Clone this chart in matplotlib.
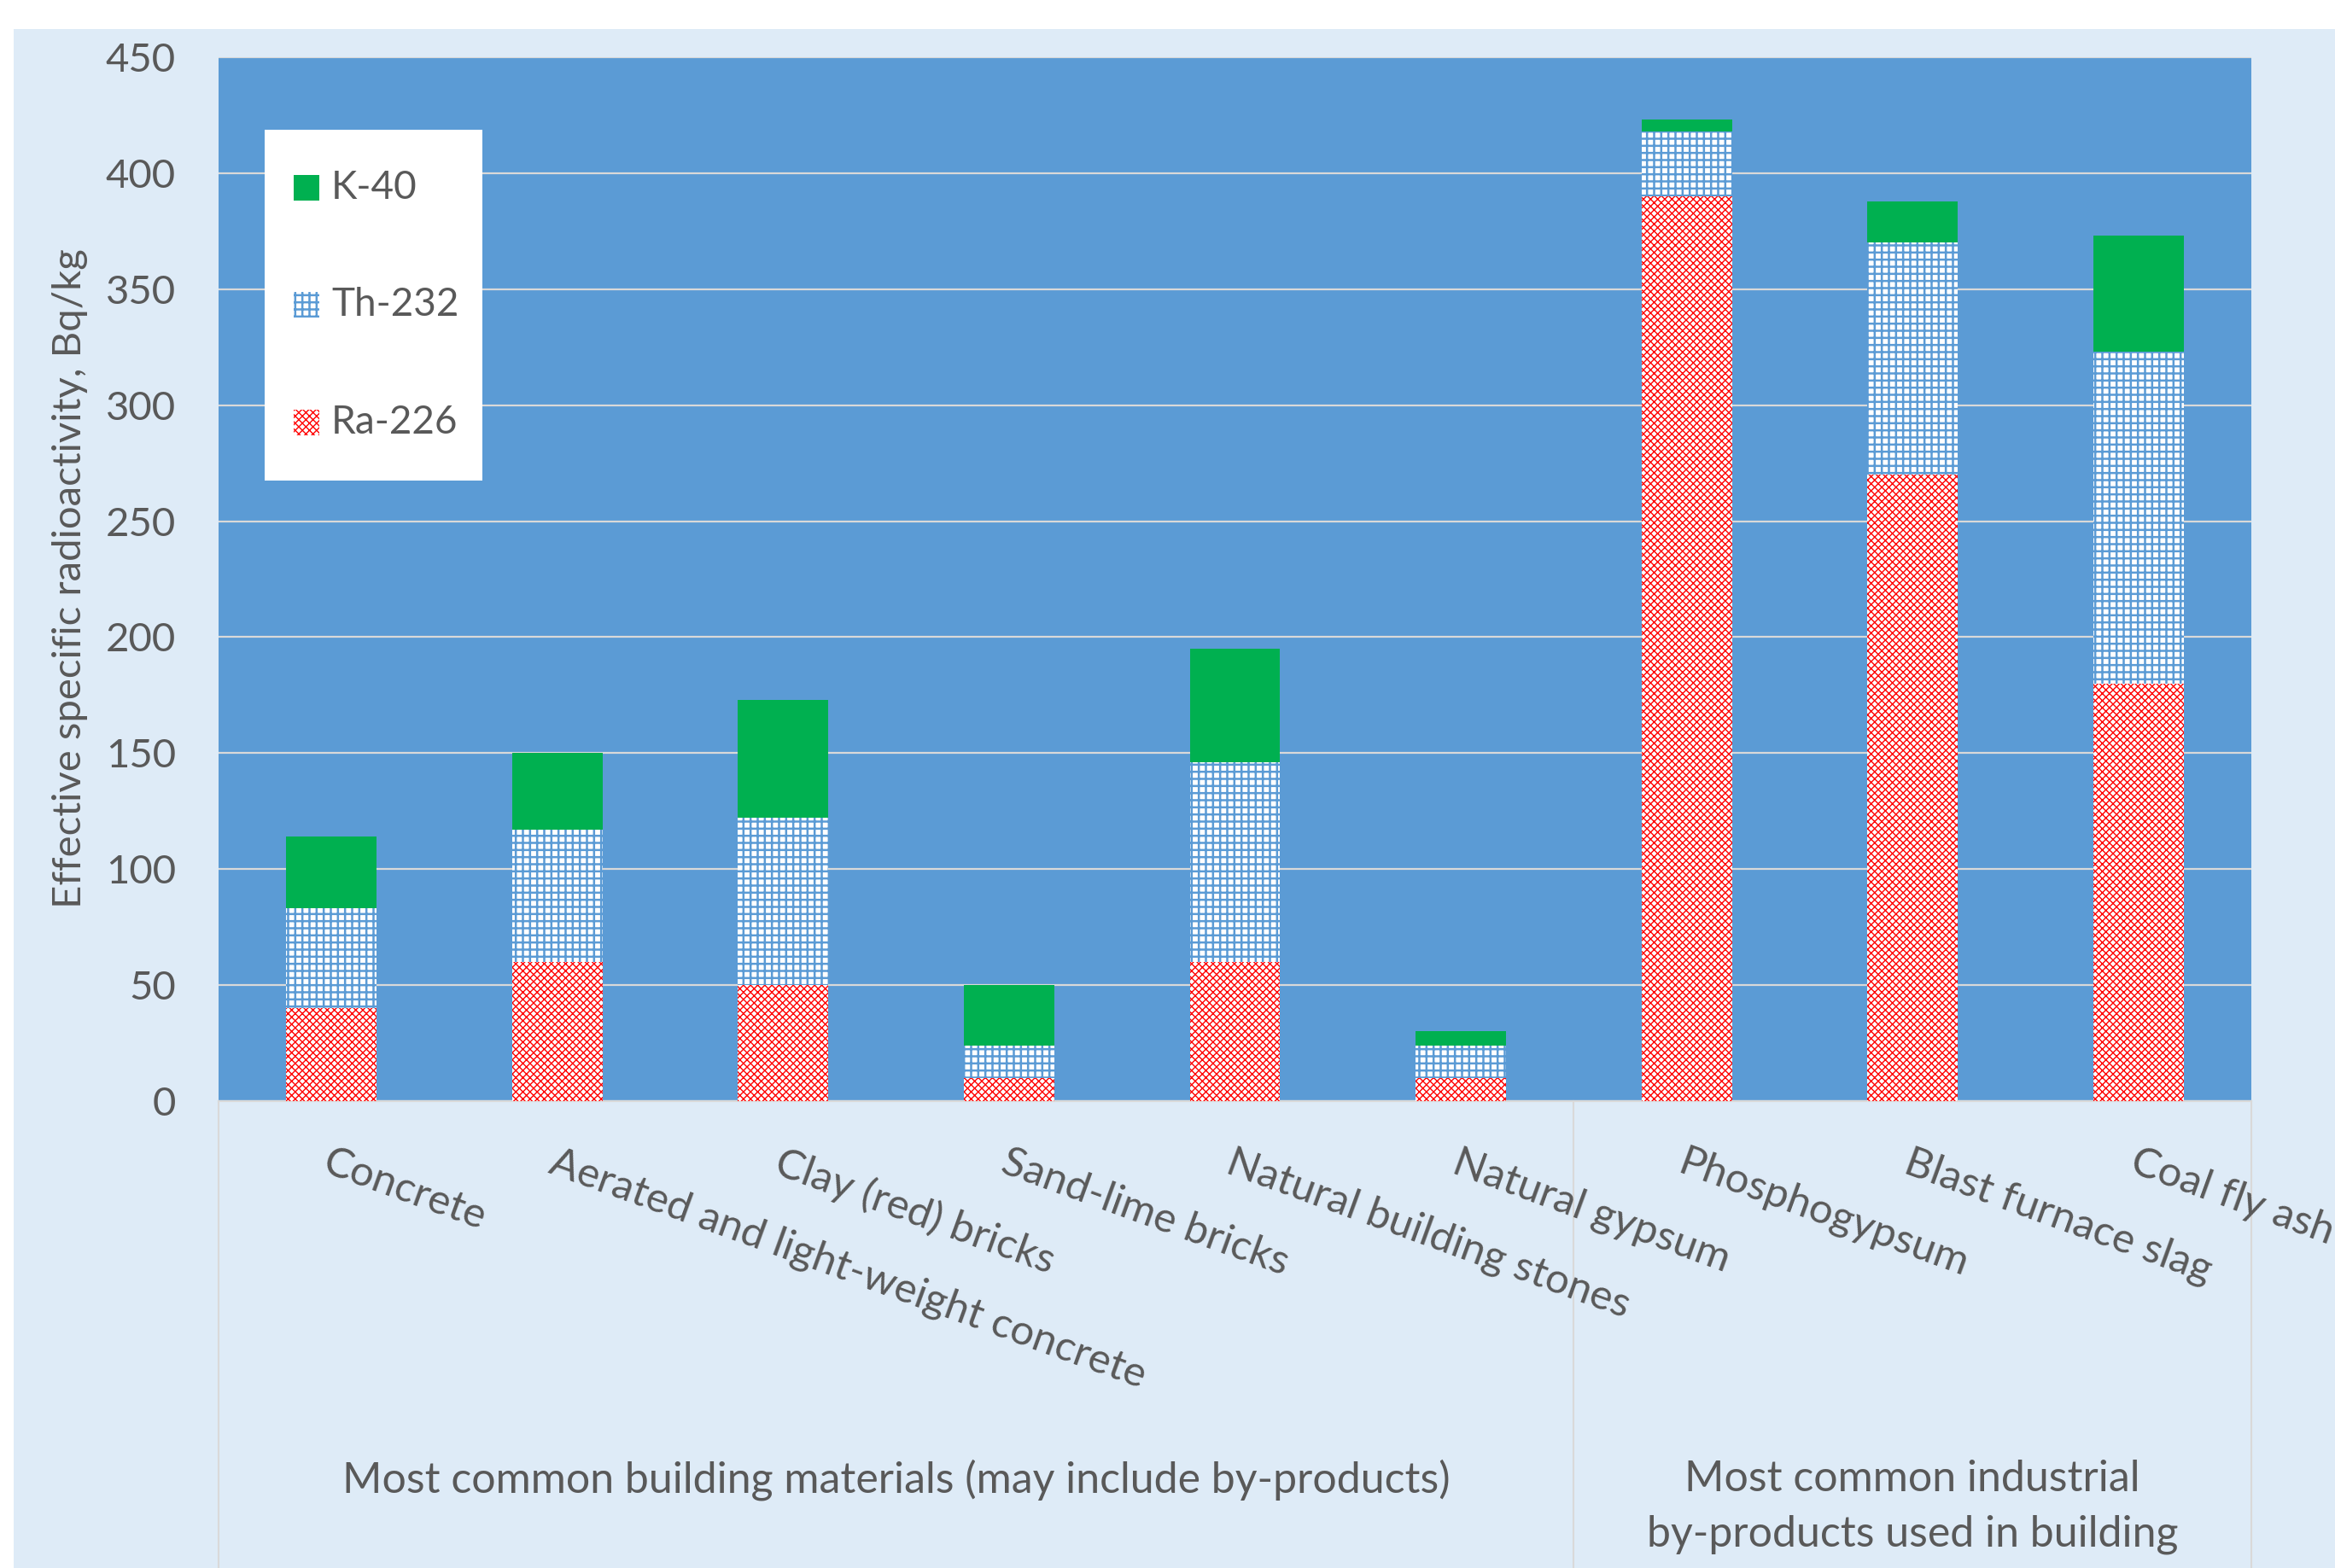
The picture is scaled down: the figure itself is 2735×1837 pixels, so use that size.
import numpy as np
import matplotlib
matplotlib.use("Agg")
import matplotlib.pyplot as plt
from matplotlib.patches import Rectangle

plt.rcParams['font.family'] = ['Lato', 'DejaVu Sans']

# data (Bq/kg)
categories = ['Concrete', 'Aerated and light-weight concrete', 'Clay (red) bricks',
              'Sand-lime bricks', 'Natural building stones', 'Natural gypsum',
              'Phosphogypsum', 'Blast furnace slag', 'Coal fly ash']
ra226 = [40, 60, 50, 10, 60, 10, 390, 270, 180]
th232 = [43, 57, 72, 14, 86, 14, 28, 100, 143]
k40 = [31, 33, 51, 26, 49, 6, 5, 18, 50]
series_names = ['K-40', 'Th-232', 'Ra-226']
groups = ['Most common building materials (may include by-products)',
          'Most common industrial\nby-products used in building']

W, H = 2735, 1837
txt = '#595959'
plot_bg = '#5B9BD5'
red = '#FF0000'
green = '#00B050'

fig = plt.figure(figsize=(W / 100, H / 100), dpi=100, facecolor='white')
# light blue chart area
fig.patches.append(Rectangle((16 / W, 0), 1 - 16 / W, 1 - 34 / H,
                             transform=fig.transFigure, facecolor='#DEEBF7',
                             edgecolor='none', zorder=-10))

ax = fig.add_axes([256 / W, 1 - 1290 / H, 2381 / W, 1223 / H])
ax.set_facecolor(plot_bg)

x = np.arange(len(categories))
bw = 0.40
ra = np.array(ra226)
th = np.array(th232)

ra_style = dict(facecolor='white', edgecolor=red, hatch='xxxx', linewidth=0)
th_style = dict(facecolor='white', edgecolor=plot_bg, hatch='++', linewidth=0)

with plt.rc_context({'hatch.linewidth': 1.0}):
    ax.bar(x, ra, bw, zorder=3, **ra_style)
with plt.rc_context({'hatch.linewidth': 1.8}):
    ax.bar(x, th, bw, bottom=ra, zorder=3, **th_style)
ax.bar(x, k40, bw, bottom=ra + th, color=green, linewidth=0, zorder=3)

ax.set_xlim(-0.5, len(categories) - 0.5)
ax.set_ylim(0, 450)
ax.set_yticks(np.arange(0, 451, 50))
ax.yaxis.grid(True, color='#D9D9D9', linewidth=1.6, zorder=1)
ax.set_axisbelow(True)
ax.tick_params(axis='y', length=0, pad=36, labelsize=34, labelcolor=txt)
ax.set_xticks([])
for s in ['top', 'right', 'left']:
    ax.spines[s].set_visible(False)
ax.spines['bottom'].set_color('#D9D9D9')
ax.spines['bottom'].set_linewidth(1.6)

# category labels
xt = ax.get_xaxis_transform()
for xi, name in zip(x, categories):
    ax.text(xi, -0.04, name, transform=xt, rotation=-20, rotation_mode='anchor',
            ha='left', va='top', fontsize=35.5, color=txt)

# group separators and labels
for xs in [-0.5, 5.5, 8.5]:
    ax.plot([xs, xs], [0, -0.46], transform=xt, color='#D9D9D9', lw=1.5, clip_on=False)
ax.text(2.5, -0.363, groups[0], transform=xt, ha='center', va='center',
        fontsize=36, color=txt)
ax.text(7.0, -0.389, groups[1], transform=xt, ha='center', va='center',
        fontsize=36, color=txt, linespacing=1.5)

fig.text(82 / W, 1 - 678 / H, 'Effective specific radioactivity, Bq/kg', rotation=90,
         ha='center', va='center', fontsize=34, color=txt)

# legend box (figure pixel layout)
def fpx(px, py):
    return px / W, 1 - py / H

fig.patches.append(Rectangle(fpx(310, 563), 255 / W, 411 / H, transform=fig.transFigure,
                             facecolor='white', edgecolor='none', zorder=5))
handle_styles = [(dict(facecolor=green, edgecolor='none'), 1.0),
                 (th_style, 1.8), (ra_style, 1.0)]
for name, (style, hlw), cy in zip(series_names, handle_styles, [220, 357, 495]):
    st = dict(style)
    st.pop('linewidth', None)
    with plt.rc_context({'hatch.linewidth': hlw}):
        fig.patches.append(Rectangle(fpx(344, cy + 15), 30 / W, 30 / H,
                                     transform=fig.transFigure, linewidth=0,
                                     zorder=6, **st))
    fig.text(*fpx(388, cy), name, ha='left', va='center', fontsize=33,
             color=txt, zorder=6)

fig.savefig('out.png', dpi=100)
